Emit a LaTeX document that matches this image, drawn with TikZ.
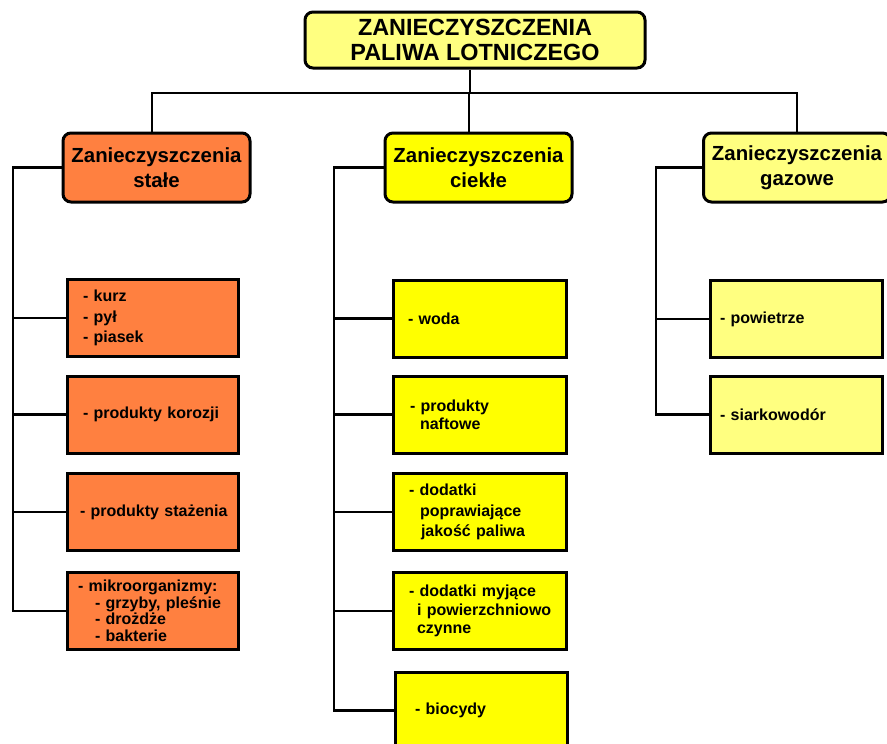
\documentclass[tikz,border=0pt]{standalone}
\usepackage{fontspec}
\setmainfont{Liberation Sans}
\definecolor{pomaranczowy}{HTML}{FF8040}
\definecolor{zolty}{HTML}{FFFF00}
\definecolor{jasnyzolty}{HTML}{FFFF80}
\newcommand{\wc}[1]{\hspace*{#1pt}} % wcięcie wiersza
\begin{document}
\begin{tikzpicture}[
        x=1pt, y=-1pt, % współrzędne w pikselach
        line width=2.2pt,
        tytul/.style = {draw, line width=3pt, rounded corners=8pt, fill=jasnyzolty, align=center, minimum width=340pt, minimum height=56pt, inner sep=0pt, font=\bfseries\fontsize{23.4}{25}\selectfont},
        naglowek/.style = {draw, line width=3pt, rounded corners=8pt, align=center, minimum width=187pt, minimum height=69pt, inner sep=0pt, font=\bfseries\fontsize{20.4}{25}\selectfont}, % kategorie
        pozycja/.style = {draw, line width=3pt, align=left, minimum height=77pt, inner xsep=8pt, inner ysep=1pt, font=\bfseries\fontsize{16}{20.5}\selectfont}, % ramki z listą
    ]
    \useasboundingbox (0,0) rectangle (887,744);

    \node[tytul] (paliwo) at (475,40) {ZANIECZYSZCZENIA\\PALIWA LOTNICZEGO};

    \node[naglowek, fill=pomaranczowy] (stale) at (156.5,167.5) {Zanieczyszczenia\\stałe};
    \node[naglowek, fill=zolty] (ciekle) at (478.5,167.5) {Zanieczyszczenia\\ciekłe};
    \node[naglowek, fill=jasnyzolty] (gazowe) at (797,167.5) {Zanieczyszczenia\\gazowe};

    % zanieczyszczenia stałe
    \node[pozycja, fill=pomaranczowy, text width=155pt] (s1) at (152.5,318) {\wc{8}- kurz\\\wc{8}- pył\\\wc{8}- piasek};
    \node[pozycja, fill=pomaranczowy, text width=155pt] (s2) at (152.5,414.5) {\wc{8}- produkty korozji};
    \node[pozycja, fill=pomaranczowy, text width=155pt] (s3) at (152.5,512) {\wc{5}- produkty stażenia};
    \node[pozycja, fill=pomaranczowy, text width=155pt, font=\bfseries\fontsize{16}{16.5}\selectfont] (s4) at (152.5,611) {\wc{3}- mikroorganizmy:\\\wc{20}- grzyby, pleśnie\\\wc{20}- drożdże\\\wc{20}- bakterie};

    % zanieczyszczenia ciekłe
    \node[pozycja, fill=zolty, text width=157pt] (c1) at (479.5,318.5) {\wc{7}- woda};
    \node[pozycja, fill=zolty, text width=157pt, font=\bfseries\fontsize{16}{18}\selectfont] (c2) at (479.5,414.5) {\wc{9}- produkty\\\wc{19}naftowe};
    \node[pozycja, fill=zolty, text width=157pt] (c3) at (479.5,512) {\wc{8}- dodatki\\\wc{19}poprawiające\\\wc{20}jakość paliwa};
    \node[pozycja, fill=zolty, text width=157pt, font=\bfseries\fontsize{16}{18.5}\selectfont] (c4) at (479.5,611) {\wc{8}- dodatki myjące\\\wc{16}i powierzchniowo\\\wc{16}czynne};
    \node[pozycja, fill=zolty, text width=156pt] (c5) at (481,710.5) {\wc{12}- biocydy};

    % zanieczyszczenia gazowe
    \node[pozycja, fill=jasnyzolty, text width=156pt] (g1) at (796,319) {\wc{2}- powietrze};
    \node[pozycja, fill=jasnyzolty, text width=156pt] (g2) at (796,414.5) {\wc{2}- siarkowodór};

    % połączenia
    \coordinate (szyna) at (470,93);
    \coordinate (lewa) at (13,0);
    \coordinate (srodek) at (334,0);
    \coordinate (prawa) at (656,0);
    \draw (paliwo.south -| szyna) -- (szyna);
    \draw ([xshift=-4.5pt]stale.north) |- (szyna) -| ([xshift=0pt]gazowe.north);
    \draw ([xshift=-9.5pt]ciekle.north) -- ([xshift=-9.5pt]ciekle.north |- szyna);

    \draw (stale.west) -| (lewa |- s4.west) -- (s4.west);
    \foreach \n in {s1,s2,s3} \draw (\n.west) -- (\n.west -| lewa);
    \draw (ciekle.west) -| (srodek |- c5.west) -- (c5.west);
    \foreach \n in {c1,c2,c3,c4} \draw (\n.west) -- (\n.west -| srodek);
    \draw (gazowe.west) -| (prawa |- g2.west) -- (g2.west);
    \draw (g1.west) -- (g1.west -| prawa);
\end{tikzpicture}
\end{document}
